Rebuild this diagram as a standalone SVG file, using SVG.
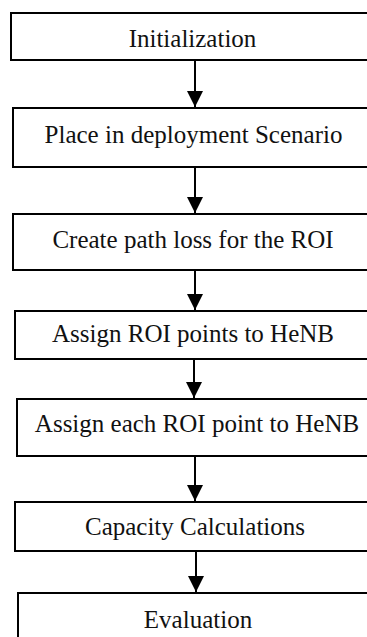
<svg xmlns="http://www.w3.org/2000/svg" width="367" height="637" viewBox="0 0 367 637">
<defs>
<marker id="ah" markerWidth="16" markerHeight="16" viewBox="0 0 16 16" refX="16" refY="8" orient="auto" markerUnits="userSpaceOnUse">
<path d="M0,0 L16,8 L0,16 Z" fill="#000"/>
</marker>
<style>
.box{fill:#fff;stroke:#000;stroke-width:2}
.lbl{font-size:25px;fill:#111;text-anchor:middle}
.con{stroke:#000;stroke-width:2;fill:none}
</style>
</defs>
<rect width="367" height="637" fill="#fff"/>
<g font-family="'Liberation Serif', 'DejaVu Serif', serif">
<g id="n1"><rect class="box" x="11" y="13" width="400" height="47"/><text class="lbl" x="192.5" y="47">Initialization</text></g>
<g id="n2"><rect class="box" x="13" y="108" width="400" height="59"/><text class="lbl" x="193.5" y="143">Place in deployment Scenario</text></g>
<g id="n3"><rect class="box" x="13" y="214" width="400" height="56"/><text class="lbl" x="193" y="248">Create path loss for the ROI</text></g>
<g id="n4"><rect class="box" x="15" y="311" width="400" height="48"/><text class="lbl" x="193" y="342">Assign ROI points to HeNB</text></g>
<g id="n5"><rect class="box" x="17" y="399" width="400" height="57"/><text class="lbl" x="197" y="432">Assign each ROI point to HeNB</text></g>
<g id="n6"><rect class="box" x="15" y="502" width="400" height="49"/><text class="lbl" x="195" y="535">Capacity Calculations</text></g>
<g id="n7"><rect class="box" x="18" y="593" width="400" height="60"/><text class="lbl" x="198" y="628">Evaluation</text></g>
</g>
<g id="connectors">
<line class="con" x1="195" y1="60" x2="195" y2="107" marker-end="url(#ah)"/>
<line class="con" x1="195" y1="167" x2="195" y2="213" marker-end="url(#ah)"/>
<line class="con" x1="195" y1="270" x2="195" y2="310" marker-end="url(#ah)"/>
<line class="con" x1="194" y1="359" x2="194" y2="398" marker-end="url(#ah)"/>
<line class="con" x1="195" y1="456" x2="195" y2="501" marker-end="url(#ah)"/>
<line class="con" x1="196" y1="551" x2="196" y2="592" marker-end="url(#ah)"/>
</g>
</svg>
